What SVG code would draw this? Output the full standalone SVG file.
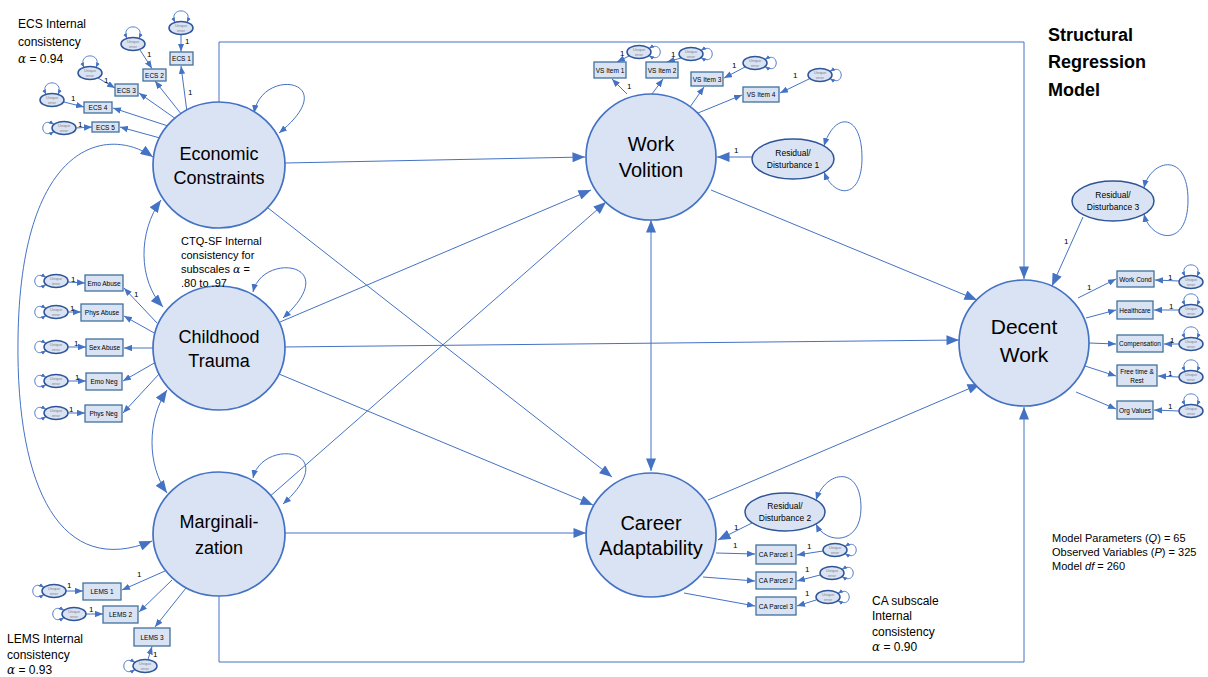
<svg xmlns="http://www.w3.org/2000/svg" xmlns:xlink="http://www.w3.org/1999/xlink" width="1208" height="677" viewBox="0 0 1208 677">
<style>
text{font-family:"Liberation Sans",Arial,sans-serif;fill:#000}
.lat{fill:#dae3f3;stroke:#4472c4;stroke-width:1.7}
.box{fill:#dae3f3;stroke:#41719c;stroke-width:1.3}
.err{fill:#dae3f3;stroke:#2f5597;stroke-width:1.5}
.res{fill:#dae3f3;stroke:#2f5597;stroke-width:1.5}
.ln{fill:none;stroke:#4472c4;stroke-width:1}
.big{marker-end:url(#ah)}
.sm{marker-end:url(#as)}
.dbl{marker-start:url(#ah);marker-end:url(#ah)}
.lp{fill:none;stroke:#4472c4;stroke-width:0.9;marker-start:url(#at);marker-end:url(#at)}
.lpb{fill:none;stroke:#4472c4;stroke-width:1;marker-start:url(#as);marker-end:url(#as)}
.ltxt{font-size:18px;text-anchor:middle}
.rtxt{font-size:20px;text-anchor:middle}
.btxt{font-size:6.5px;text-anchor:middle}
.etxt{font-size:3.8px;text-anchor:middle;fill:#7f7f7f}
.one{font-size:8px}
.note{font-size:12px}
.rs{font-size:8.5px;text-anchor:middle}
.al{font-family:"DejaVu Serif",serif;font-style:italic}
</style>
<defs>
<marker id="ah" viewBox="0 0 10 8" refX="10" refY="4" markerWidth="13" markerHeight="10" markerUnits="userSpaceOnUse" orient="auto-start-reverse"><path d="M0,0 L10,4 L0,8 z" fill="#4472c4"/></marker>
<marker id="as" viewBox="0 0 10 8" refX="10" refY="4" markerWidth="8" markerHeight="6.5" markerUnits="userSpaceOnUse" orient="auto-start-reverse"><path d="M0,0 L10,4 L0,8 z" fill="#4472c4"/></marker>
<marker id="at" viewBox="0 0 10 8" refX="10" refY="4" markerWidth="5" markerHeight="4.5" markerUnits="userSpaceOnUse" orient="auto-start-reverse"><path d="M0,0 L10,4 L0,8 z" fill="#4472c4"/></marker>
<g id="eT"><path class="lp" d="M-6,-5.5 C-13,-21 13,-21 6,-5.5"/><ellipse class="err" cx="0" cy="0" rx="12" ry="6.5"/><text class="etxt" y="-0.8">Unique</text><text class="etxt" y="4">error</text></g>
<g id="eL"><path class="lp" d="M-10,-3.6 C-25,-13 -25,13 -10,3.6"/><ellipse class="err" cx="0" cy="0" rx="12" ry="6.5"/><text class="etxt" y="-0.8">Unique</text><text class="etxt" y="4">error</text></g>
<g id="eR"><path class="lp" d="M10,-3.6 C25,-13 25,13 10,3.6"/><ellipse class="err" cx="0" cy="0" rx="12" ry="6.5"/><text class="etxt" y="-0.8">Unique</text><text class="etxt" y="4">error</text></g>
</defs>
<rect width="1208" height="677" fill="#fff"/>

<g id="connectors">
<path class="ln big" d="M219,102 V42 H1024 V279"/>
<path class="ln big" d="M219,596 V662 H1024 V407"/>
<path class="ln big" d="M285,163 L585,157"/>
<path class="ln big" d="M268,208 L612,477"/>
<path class="ln big" d="M280,322 L591,190"/>
<path class="ln big" d="M282,347 L959,340"/>
<path class="ln big" d="M279,374 L593,505"/>
<path class="ln big" d="M268,498 L606,202"/>
<path class="ln big" d="M282,533 L586,533"/>
<path class="ln big" d="M711,190 L977,300"/>
<path class="ln big" d="M708,500 L980,384"/>
<path class="ln dbl" d="M651,220 L651,471"/>
<path class="ln dbl" d="M161,200 C138,232 138,280 163,307"/>
<path class="ln dbl" d="M167,390 C147,420 147,465 167,493"/>
<path class="ln dbl" d="M153,157 C105,124 20,145 18,340 C16,490 62,578 152,541"/>
<path class="lpb" d="M254,113 C262,66 345,80 279,133"/>
<path class="lpb" d="M253,292 C262,252 345,262 283,318"/>
<path class="lpb" d="M253,478 C262,438 345,448 283,504"/>
<path class="ln big" d="M752,157 L717,157"/>
<path class="ln big" d="M752,523 L718,540"/>
<path class="ln big" d="M1083,217 L1052,286"/>
<path class="lpb" d="M824,146 C834,112 862,112 862,158 C862,200 834,198 824,172"/>
<path class="lpb" d="M816,500 C826,470 861,465 861,508 C861,545 826,545 816,524"/>
<path class="lpb" d="M1144,188 C1150,160 1188,150 1188,200 C1188,250 1150,240 1144,214"/>
<path class="ln sm" d="M187,112 L181,66"/>
<path class="ln sm" d="M182,115 L155,81"/>
<path class="ln sm" d="M176,119 L139,93"/>
<path class="ln sm" d="M168,126 L113,108"/>
<path class="ln sm" d="M160,138 L120,127"/>
<path class="ln sm" d="M181,34.5 L181,51.5"/>
<path class="ln sm" d="M140,50 L152,68.5"/>
<path class="ln sm" d="M98,78 L115,88"/>
<path class="ln sm" d="M64,102 L84,107"/>
<path class="ln sm" d="M76,128 L92,127"/>
<path class="ln sm" d="M157,323 L124,288"/>
<path class="ln sm" d="M156,334 L124,316"/>
<path class="ln sm" d="M155,348 L124,348"/>
<path class="ln sm" d="M156,362 L123,381"/>
<path class="ln sm" d="M160,373 L123,413"/>
<path class="ln sm" d="M68,282 L85,283"/>
<path class="ln sm" d="M68,312 L81,312"/>
<path class="ln sm" d="M68,347 L86,347"/>
<path class="ln sm" d="M68,381 L86,381"/>
<path class="ln sm" d="M68,413 L85,413"/>
<path class="ln sm" d="M165,571 L122,590"/>
<path class="ln sm" d="M172,580 L139,612"/>
<path class="ln sm" d="M186,588 L155,627"/>
<path class="ln sm" d="M66,591 L83,591"/>
<path class="ln sm" d="M86,614 L103,614"/>
<path class="ln sm" d="M148,659.5 L152,646.5"/>
<path class="ln sm" d="M627,94 L612,79"/>
<path class="ln sm" d="M652,94 L663,79"/>
<path class="ln sm" d="M690,107 L704,87"/>
<path class="ln sm" d="M698,113 L742,95"/>
<path class="ln sm" d="M629,56 L617,62"/>
<path class="ln sm" d="M681,58 L667,62"/>
<path class="ln sm" d="M745,67 L724,78"/>
<path class="ln sm" d="M809,79 L780,93"/>
<path class="ln sm" d="M1078,298 L1116,279"/>
<path class="ln sm" d="M1086,318 L1116,310"/>
<path class="ln sm" d="M1089,343 L1116,344"/>
<path class="ln sm" d="M1085,366 L1116,376"/>
<path class="ln sm" d="M1076,392 L1116,409"/>
<path class="ln sm" d="M1179,281 L1155,280"/>
<path class="ln sm" d="M1179,310 L1154,310"/>
<path class="ln sm" d="M1179,344 L1164,344"/>
<path class="ln sm" d="M1179,377 L1158,376"/>
<path class="ln sm" d="M1179,411 L1154,410"/>
<path class="ln sm" d="M716,553 L755,554"/>
<path class="ln sm" d="M703,577 L755,581"/>
<path class="ln sm" d="M684,593 L755,606"/>
<path class="ln sm" d="M823,551 L797,555"/>
<path class="ln sm" d="M820,575 L797,581"/>
<path class="ln sm" d="M816,600 L797,606"/>
</g>

<g id="path-labels" class="one">
<text x="185" y="44">1</text><text x="147" y="57">1</text><text x="104" y="83">1</text><text x="71" y="101">1</text><text x="78" y="127">1</text>
<text x="188" y="95">1</text>
<text x="71" y="282">1</text><text x="70" y="311">1</text><text x="74" y="346">1</text><text x="75" y="380">1</text><text x="69" y="412">1</text>
<text x="134" y="297">1</text>
<text x="67" y="588">1</text><text x="89" y="612">1</text><text x="153" y="657">1</text>
<text x="137" y="577">1</text>
<text x="620" y="56">1</text><text x="671" y="57">1</text><text x="732" y="68">1</text><text x="793" y="78">1</text>
<text x="627" y="89">1</text>
<text x="1087" y="290">1</text>
<text x="1168" y="280">1</text><text x="1169" y="309">1</text><text x="1170" y="343">1</text><text x="1168" y="376">1</text><text x="1168" y="409">1</text>
<text x="733" y="548">1</text>
<text x="807" y="549">1</text><text x="805" y="572">1</text><text x="805" y="596">1</text>
<text x="734" y="153">1</text><text x="734" y="530">1</text><text x="1064" y="244">1</text>
</g>

<g id="economic-constraints"><ellipse class="lat" cx="219" cy="165" rx="66" ry="63"/><text class="ltxt" x="219" y="160">Economic</text><text class="ltxt" x="219" y="184">Constraints</text></g>
<g id="childhood-trauma"><ellipse class="lat" cx="219" cy="348" rx="66" ry="62"/><text class="ltxt" x="219" y="343">Childhood</text><text class="ltxt" x="219" y="367">Trauma</text></g>
<g id="marginalization"><ellipse class="lat" cx="219" cy="534" rx="66" ry="62"/><text class="ltxt" x="219" y="528">Marginali-</text><text class="ltxt" x="219" y="554">zation</text></g>
<g id="work-volition"><ellipse class="lat" cx="651" cy="157" rx="65" ry="63"/><text class="rtxt" x="651" y="151">Work</text><text class="rtxt" x="651" y="177">Volition</text></g>
<g id="career-adaptability"><ellipse class="lat" cx="651" cy="535" rx="65" ry="62"/><text class="rtxt" x="651" y="530">Career</text><text class="rtxt" x="651" y="555">Adaptability</text></g>
<g id="decent-work"><ellipse class="lat" cx="1024" cy="343" rx="65" ry="63"/><text class="rtxt" x="1024" y="334" style="font-size:21px">Decent</text><text class="rtxt" x="1024" y="362" style="font-size:21px">Work</text></g>

<g id="residual-1"><ellipse class="res" cx="793" cy="159" rx="41" ry="20"/><text class="rs" x="793" y="156">Residual/</text><text class="rs" x="793" y="168">Disturbance 1</text></g>
<g id="residual-2"><ellipse class="res" cx="785" cy="512" rx="40" ry="19"/><text class="rs" x="785" y="509">Residual/</text><text class="rs" x="785" y="521">Disturbance 2</text></g>
<g id="residual-3"><ellipse class="res" cx="1113" cy="201" rx="41" ry="20"/><text class="rs" x="1113" y="198">Residual/</text><text class="rs" x="1113" y="210">Disturbance 3</text></g>

<g id="ecs-items">
<g id="ecs1"><rect class="box" x="170" y="52" width="23" height="13"/><text class="btxt" x="181.5" y="61">ECS 1</text><use xlink:href="#eT" x="181" y="28"/></g>
<g id="ecs2"><rect class="box" x="143" y="69" width="23" height="12"/><text class="btxt" x="154.5" y="77.5">ECS 2</text><use xlink:href="#eT" x="133" y="44"/></g>
<g id="ecs3"><rect class="box" x="115" y="84" width="23" height="12"/><text class="btxt" x="126.5" y="92.5">ECS 3</text><use xlink:href="#eT" x="90" y="73"/></g>
<g id="ecs4"><rect class="box" x="84" y="102" width="28" height="11"/><text class="btxt" x="98" y="110">ECS 4</text><use xlink:href="#eT" x="52" y="100"/></g>
<g id="ecs5"><rect class="box" x="92" y="122" width="27" height="10"/><text class="btxt" x="105.5" y="129.5">ECS 5</text><use xlink:href="#eL" x="64" y="128"/></g>
</g>

<g id="ctq-items">
<g id="emo-abuse"><rect class="box" x="85" y="275" width="38" height="16"/><text class="btxt" x="104" y="285.5">Emo Abuse</text><use xlink:href="#eL" x="56" y="281"/></g>
<g id="phys-abuse"><rect class="box" x="81" y="304" width="42" height="17"/><text class="btxt" x="102" y="315">Phys Abuse</text><use xlink:href="#eL" x="56" y="312"/></g>
<g id="sex-abuse"><rect class="box" x="86" y="339" width="37" height="17"/><text class="btxt" x="104.5" y="350">Sex Abuse</text><use xlink:href="#eL" x="56" y="347"/></g>
<g id="emo-neg"><rect class="box" x="86" y="373" width="36" height="17"/><text class="btxt" x="104" y="384">Emo Neg</text><use xlink:href="#eL" x="56" y="381"/></g>
<g id="phys-neg"><rect class="box" x="85" y="405" width="37" height="17"/><text class="btxt" x="103.5" y="416">Phys Neg</text><use xlink:href="#eL" x="56" y="413"/></g>
</g>

<g id="lems-items">
<g id="lems1"><rect class="box" x="83" y="583" width="38" height="17"/><text class="btxt" x="102" y="594">LEMS 1</text><use xlink:href="#eL" x="54" y="591"/></g>
<g id="lems2"><rect class="box" x="103" y="606" width="35" height="17"/><text class="btxt" x="120.5" y="617">LEMS 2</text><use xlink:href="#eL" x="74" y="614"/></g>
<g id="lems3"><rect class="box" x="134" y="628" width="36" height="18"/><text class="btxt" x="152" y="639.5">LEMS 3</text><use xlink:href="#eL" x="145" y="666"/></g>
</g>

<g id="vs-items">
<g id="vs1"><rect class="box" x="594" y="62" width="32" height="16"/><text class="btxt" x="610" y="72.5">VS Item 1</text><use xlink:href="#eR" x="639" y="52"/></g>
<g id="vs2"><rect class="box" x="646" y="62" width="32" height="16"/><text class="btxt" x="662" y="72.5">VS Item 2</text><use xlink:href="#eR" x="691" y="54"/></g>
<g id="vs3"><rect class="box" x="691" y="72" width="32" height="14"/><text class="btxt" x="707" y="81.5">VS Item 3</text><use xlink:href="#eR" x="755" y="63"/></g>
<g id="vs4"><rect class="box" x="743" y="87" width="36" height="15"/><text class="btxt" x="761" y="97">VS Item 4</text><use xlink:href="#eR" x="820" y="75"/></g>
</g>

<g id="dw-items">
<g id="work-cond"><rect class="box" x="1117" y="271" width="37" height="16"/><text class="btxt" x="1135.5" y="281.5">Work Cond</text><use xlink:href="#eT" x="1191" y="282"/></g>
<g id="healthcare"><rect class="box" x="1117" y="301" width="36" height="18"/><text class="btxt" x="1135" y="312.5">Healthcare</text><use xlink:href="#eT" x="1191" y="311"/></g>
<g id="compensation"><rect class="box" x="1117" y="335" width="46" height="17"/><text class="btxt" x="1140" y="346">Compensation</text><use xlink:href="#eT" x="1191" y="344"/></g>
<g id="free-time"><rect class="box" x="1117" y="365" width="40" height="21"/><text class="btxt" x="1137" y="373.5">Free time &amp;</text><text class="btxt" x="1137" y="382.5">Rest</text><use xlink:href="#eT" x="1191" y="377"/></g>
<g id="org-values"><rect class="box" x="1117" y="401" width="36" height="18"/><text class="btxt" x="1135" y="412.5">Org Values</text><use xlink:href="#eT" x="1191" y="411"/></g>
</g>

<g id="ca-items">
<g id="ca1"><rect class="box" x="756" y="545" width="40" height="19"/><text class="btxt" x="776" y="557">CA Parcel 1</text><use xlink:href="#eR" x="835" y="550"/></g>
<g id="ca2"><rect class="box" x="756" y="572" width="40" height="17"/><text class="btxt" x="776" y="583">CA Parcel 2</text><use xlink:href="#eR" x="832" y="573"/></g>
<g id="ca3"><rect class="box" x="756" y="597" width="40" height="18"/><text class="btxt" x="776" y="608.5">CA Parcel 3</text><use xlink:href="#eR" x="828" y="597"/></g>
</g>

<g id="notes">
<text class="note" x="18" y="28">ECS Internal</text>
<text class="note" x="18" y="46">consistency</text>
<text class="note" x="18" y="63"><tspan class="al">α</tspan> = 0.94</text>
<text x="181" y="245" style="font-size:11px">CTQ-SF Internal</text>
<text x="181" y="259" style="font-size:11px">consistency for</text>
<text x="181" y="273" style="font-size:11px">subscales <tspan class="al">α</tspan> =</text>
<text x="181" y="287" style="font-size:11px">.80 to .97</text>
<text class="note" x="7" y="643">LEMS Internal</text>
<text class="note" x="7" y="659">consistency</text>
<text class="note" x="7" y="674"><tspan class="al">α</tspan> = 0.93</text>
<text class="note" x="872" y="605">CA subscale</text>
<text class="note" x="872" y="620">Internal</text>
<text class="note" x="872" y="636">consistency</text>
<text class="note" x="872" y="651"><tspan class="al">α</tspan> = 0.90</text>
<text x="1052" y="542" style="font-size:11px">Model Parameters (<tspan font-style="italic">Q</tspan>) = 65</text>
<text x="1052" y="556" style="font-size:11px">Observed Variables (<tspan font-style="italic">P</tspan>) = 325</text>
<text x="1052" y="570" style="font-size:11px">Model <tspan font-style="italic">df</tspan> = 260</text>
<text x="1048" y="41" style="font-size:18px;font-weight:bold">Structural</text>
<text x="1048" y="68" style="font-size:18px;font-weight:bold">Regression</text>
<text x="1048" y="96" style="font-size:18px;font-weight:bold">Model</text>
</g>
</svg>
